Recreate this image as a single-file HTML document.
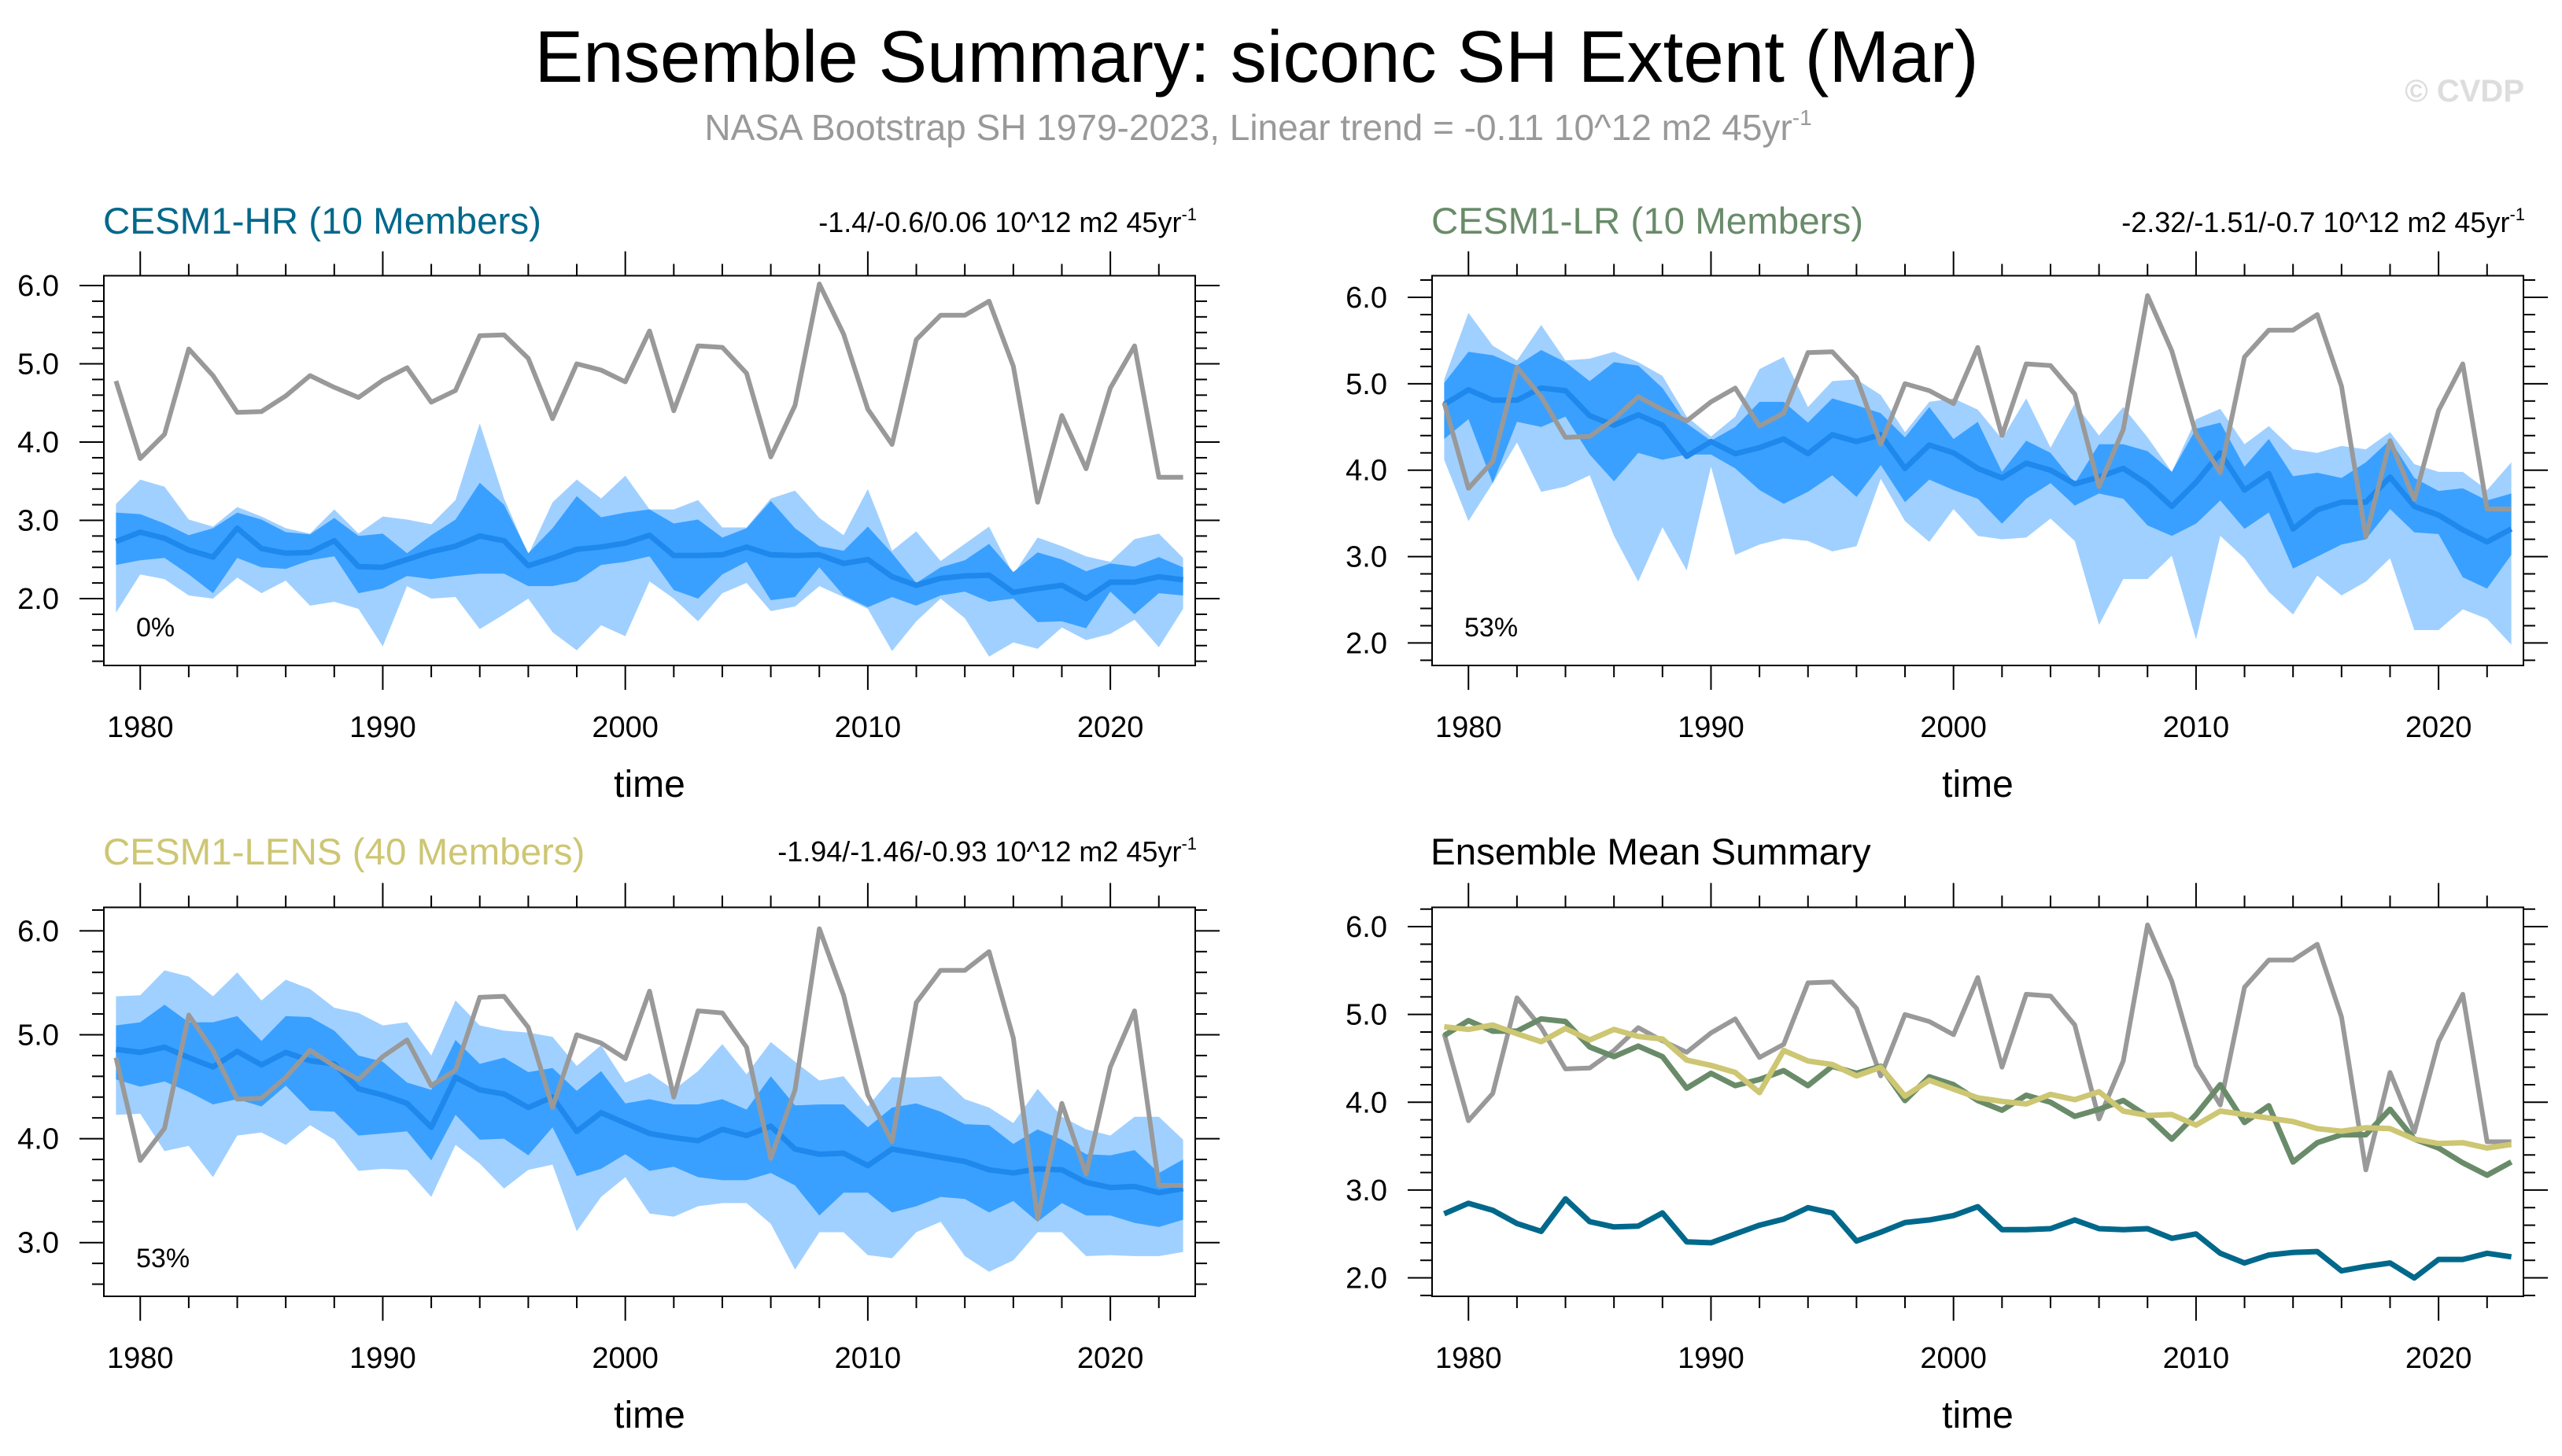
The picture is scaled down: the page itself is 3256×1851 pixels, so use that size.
<!DOCTYPE html>
<html><head><meta charset="utf-8"><title>Ensemble Summary</title>
<style>
html,body{margin:0;padding:0;background:#fff;}
svg{display:block;font-family:"Liberation Sans",Arial,sans-serif;}
</style></head>
<body>
<svg id="fig" xmlns="http://www.w3.org/2000/svg" width="3256" height="1851" viewBox="0 0 3256 1851">
<rect width="3256" height="1851" fill="#fff"/>
<text x="1597" y="104" font-size="92.5" text-anchor="middle" fill="#000">Ensemble Summary: siconc SH Extent (Mar)</text>
<text x="1599" y="178" font-size="46" text-anchor="middle" fill="#999">NASA Bootstrap SH 1979-2023, Linear trend = -0.11 10^12 m2 45yr<tspan font-size="28" dy="-19">-1</tspan></text>
<text x="3208" y="129" font-size="40" text-anchor="end" fill="#ddd" font-weight="bold">© CVDP</text>

<text x="131" y="297" font-size="47.5" fill="#00688b">CESM1-HR (10 Members)</text>
<text x="1521" y="295" font-size="36" text-anchor="end" fill="#000">-1.4/-0.6/0.06 10^12 m2 45yr<tspan font-size="22" dy="-15">-1</tspan></text>
<text x="1819" y="297" font-size="47.5" fill="#698b69">CESM1-LR (10 Members)</text>
<text x="3209" y="295" font-size="36" text-anchor="end" fill="#000">-2.32/-1.51/-0.7 10^12 m2 45yr<tspan font-size="22" dy="-15">-1</tspan></text>
<text x="131" y="1099" font-size="47.5" fill="#cdc673">CESM1-LENS (40 Members)</text>
<text x="1521" y="1095" font-size="36" text-anchor="end" fill="#000">-1.94/-1.46/-0.93 10^12 m2 45yr<tspan font-size="22" dy="-15">-1</tspan></text>
<text x="1818" y="1099" font-size="47.5" fill="#000">Ensemble Mean Summary</text>
</svg>
<script>
const years = [1979,1980,1981,1982,1983,1984,1985,1986,1987,1988,1989,1990,1991,1992,1993,1994,1995,1996,1997,1998,1999,2000,2001,2002,2003,2004,2005,2006,2007,2008,2009,2010,2011,2012,2013,2014,2015,2016,2017,2018,2019,2020,2021,2022,2023];
const obs = [4.78,3.79,4.10,5.19,4.85,4.38,4.39,4.59,4.85,4.70,4.57,4.79,4.95,4.51,4.66,5.36,5.37,5.07,4.30,5.00,4.92,4.77,5.42,4.40,5.23,5.21,4.88,3.81,4.47,6.02,5.38,4.42,3.97,5.31,5.62,5.62,5.80,4.97,3.23,4.34,3.66,4.69,5.23,3.55,3.55];
const hrMean = [2.73,2.85,2.77,2.62,2.53,2.90,2.64,2.58,2.59,2.74,2.41,2.40,2.50,2.60,2.67,2.80,2.74,2.42,2.52,2.63,2.66,2.71,2.81,2.55,2.55,2.56,2.66,2.56,2.55,2.56,2.45,2.50,2.28,2.17,2.26,2.29,2.30,2.08,2.13,2.17,2.00,2.21,2.21,2.28,2.24];
const lrMean = [4.76,4.93,4.81,4.81,4.95,4.92,4.63,4.52,4.64,4.52,4.16,4.33,4.19,4.26,4.36,4.19,4.41,4.33,4.41,4.02,4.29,4.20,4.02,3.91,4.08,4.00,3.84,3.92,4.02,3.84,3.58,3.86,4.20,3.77,3.96,3.32,3.54,3.63,3.63,3.92,3.58,3.48,3.31,3.17,3.32];
const lensMean = [4.86,4.83,4.88,4.78,4.69,4.84,4.71,4.83,4.75,4.72,4.48,4.42,4.34,4.11,4.59,4.47,4.43,4.30,4.40,4.07,4.25,4.15,4.05,4.01,3.98,4.09,4.03,4.12,3.90,3.85,3.86,3.74,3.90,3.86,3.82,3.78,3.70,3.67,3.71,3.70,3.58,3.53,3.54,3.48,3.52];

const hrLightHi = [3.21,3.52,3.43,3.01,2.92,3.17,3.05,2.90,2.83,3.14,2.83,3.05,3.01,2.95,3.26,4.24,3.28,2.56,3.23,3.52,3.28,3.57,3.14,3.14,3.26,2.91,2.91,3.28,3.38,3.03,2.81,3.40,2.61,2.86,2.48,2.70,2.92,2.31,2.78,2.67,2.54,2.47,2.76,2.83,2.52];
const hrDarkHi = [3.10,3.08,2.96,2.81,2.90,3.10,3.01,2.85,2.82,3.03,2.80,2.83,2.58,2.81,3.01,3.48,3.20,2.58,2.90,3.31,3.04,3.10,3.14,2.96,3.01,2.78,2.90,3.25,2.90,2.67,2.61,2.92,2.58,2.20,2.40,2.49,2.70,2.34,2.59,2.50,2.35,2.45,2.41,2.53,2.40];
const hrDarkLo = [2.43,2.49,2.52,2.31,2.07,2.52,2.40,2.38,2.49,2.54,2.07,2.13,2.29,2.25,2.29,2.32,2.32,2.16,2.16,2.22,2.43,2.47,2.54,2.11,2.00,2.31,2.47,1.98,2.02,2.40,2.04,1.89,2.02,1.91,2.04,2.09,1.96,2.00,1.70,1.71,1.62,2.09,1.80,2.07,2.04];
const hrLightLo = [1.82,2.31,2.25,2.04,2.00,2.27,2.07,2.23,1.91,1.96,1.87,1.39,2.16,2.00,2.02,1.61,1.80,2.00,1.57,1.34,1.66,1.52,2.22,2.00,1.71,2.07,2.20,1.84,1.90,2.16,2.02,1.87,1.33,1.71,2.00,1.75,1.26,1.44,1.36,1.63,1.47,1.55,1.73,1.38,1.87];

const lrLightHi = [5.05,5.82,5.44,5.27,5.68,5.27,5.29,5.37,5.25,5.09,4.62,4.39,4.62,5.17,5.31,4.73,5.03,5.05,4.87,4.44,4.79,4.83,4.70,4.36,4.83,4.26,4.77,4.40,4.73,4.38,3.98,4.59,4.71,4.30,4.51,4.24,4.20,4.28,4.24,4.44,4.07,3.98,3.98,3.77,4.09];
const lrDarkHi = [5.01,5.37,5.33,5.21,5.39,5.25,5.03,5.25,5.21,4.95,4.54,4.34,4.50,4.79,4.79,4.55,4.83,4.75,4.66,4.38,4.73,4.36,4.56,3.98,4.34,4.20,3.85,4.30,4.30,4.22,3.98,4.48,4.55,4.04,4.36,3.93,3.97,3.91,4.09,4.35,3.91,3.76,3.79,3.65,3.73];
const lrDarkLo = [4.36,4.59,3.85,4.56,4.50,4.62,4.18,3.87,4.20,4.12,4.18,4.18,4.02,3.77,3.61,3.75,3.94,3.69,4.06,3.63,3.89,3.77,3.67,3.38,3.67,3.85,3.59,3.73,3.67,3.36,3.24,3.38,3.65,3.32,3.51,2.86,3.00,3.14,3.20,3.55,3.28,3.26,2.76,2.63,3.02];
const lrLightLo = [4.12,3.41,3.85,4.32,3.75,3.81,3.94,3.24,2.71,3.34,2.84,4.04,3.02,3.14,3.21,3.18,3.06,3.12,3.90,3.41,3.17,3.55,3.24,3.20,3.22,3.44,3.18,2.21,2.74,2.74,3.01,2.04,3.24,2.98,2.59,2.33,2.78,2.55,2.71,2.98,2.15,2.15,2.39,2.28,1.98];

const lensLightHi = [5.37,5.38,5.62,5.56,5.37,5.60,5.33,5.53,5.44,5.26,5.21,5.09,5.12,4.80,5.33,5.09,5.04,5.02,4.98,4.70,4.90,4.54,4.63,4.47,4.65,4.91,4.62,4.93,4.74,4.56,4.60,4.31,4.59,4.59,4.60,4.38,4.30,4.15,4.48,4.21,4.09,4.03,4.21,4.21,3.99];
const lensDarkHi = [5.09,5.12,5.29,5.12,5.12,5.18,4.94,5.18,5.17,5.04,4.80,4.74,4.54,4.47,4.95,4.72,4.78,4.64,4.68,4.46,4.65,4.34,4.38,4.33,4.33,4.38,4.28,4.60,4.32,4.33,4.33,4.11,4.30,4.34,4.26,4.14,4.13,3.95,4.09,3.99,3.85,3.84,3.89,3.67,3.80];
const lensDarkLo = [4.57,4.50,4.55,4.45,4.33,4.38,4.31,4.51,4.27,4.26,4.03,4.05,4.07,3.79,4.23,3.99,4.00,3.84,4.11,3.64,3.71,3.85,3.69,3.73,3.63,3.60,3.60,3.67,3.55,3.26,3.48,3.48,3.29,3.35,3.44,3.42,3.29,3.40,3.20,3.38,3.26,3.26,3.19,3.15,3.22];
const lensLightLo = [4.23,4.24,3.88,3.93,3.63,4.03,4.06,3.94,4.13,3.99,3.69,3.71,3.70,3.44,3.94,3.76,3.52,3.70,3.75,3.11,3.44,3.63,3.28,3.25,3.35,3.38,3.38,3.18,2.74,3.10,3.10,2.88,2.85,3.10,3.20,2.87,2.72,2.83,3.10,3.10,2.87,2.88,2.87,2.87,2.91];

const xTickLabels = ["1980","1990","2000","2010","2020"];
const yTickLabels = ["2.0","3.0","4.0","5.0","6.0"];

const NS = "http://www.w3.org/2000/svg";
const svg = document.getElementById("fig");
function mk(tag, attrs, parent){
  const e = document.createElementNS(NS, tag);
  for (const k in attrs) e.setAttribute(k, attrs[k]);
  (parent || svg).appendChild(e);
  return e;
}

function makePanel(name, x0, x1, y0, y1, vmin, vmax, pctText){
  const g = mk("g", {});
  
  
  const xs = yr => x0 + (yr - 1978.5) / 45 * (x1 - x0);
  const ys = v => y1 - (v - vmin) / (vmax - vmin) * (y1 - y0);
  const axes = mk("g", {stroke:"#000","stroke-width":2}, g);
  
  
  for (let yr = 1980; yr <= 2023; yr += 2){
    const major = (yr % 10 === 0);
    const L = major ? 31 : 15;
    const x = xs(yr);
    mk("line", {x1:x, x2:x, y1:y0, y2:y0-L}, axes);
    mk("line", {x1:x, x2:x, y1:y1, y2:y1+L}, axes);
  }
  for (let k = Math.ceil(vmin*5 - 1e-6); k <= Math.floor(vmax*5 + 1e-6); k++){
    const v = k/5;
    const major = (k % 5 === 0);
    const L = major ? 31 : 15;
    const y = ys(v);
    mk("line", {x1:x0, x2:x0-L, y1:y, y2:y}, axes);
    mk("line", {x1:x1, x2:x1+L, y1:y, y2:y}, axes);
  }
  xTickLabels.forEach(lab => {
    const t = mk("text", {x:xs(+lab), y:y1+91, "font-size":38, "text-anchor":"middle", fill:"#000"}, g);
    
    
    t.textContent = lab;
  });
  yTickLabels.forEach(lab => {
    const v = parseFloat(lab);
    if (v < vmin || v > vmax) return;
    const t = mk("text", {x:x0-57, y:ys(v)+13, "font-size":38, "text-anchor":"end", fill:"#000"}, g);
    
    
    t.textContent = lab;
  });
  const xt = mk("text", {x:(x0+x1)/2, y:y1+167, "font-size":48, "text-anchor":"middle", fill:"#000"}, g);
  
  
  xt.textContent = "time";
  const plot = mk("g", {}, g);
  
  
  const frame = mk("rect", {x:x0, y:y0, width:x1-x0, height:y1-y0, fill:"none", stroke:"#000", "stroke-width":2}, g);
  
  
  if (pctText){
    const p = mk("text", {x:x0+41, y:ys(vmin)-(y1-y0)*0.075, "font-size":34, fill:"#000"}, g);
    
    
    p.textContent = pctText;
  }
  return {xs, ys, plot};
}

function band(P, lo, hi, color, name){
  const pts = [];
  years.forEach((yr,i) => pts.push(P.xs(yr).toFixed(1)+","+P.ys(hi[i]).toFixed(1)));
  for (let i = years.length-1; i >= 0; i--) pts.push(P.xs(years[i]).toFixed(1)+","+P.ys(lo[i]).toFixed(1));
  const poly = mk("polygon", {points:pts.join(" "), fill:color, stroke:"none"}, P.plot);
  
  
}
function line(P, vals, color, w, name){
  const pts = years.map((yr,i) => P.xs(yr).toFixed(1)+","+P.ys(vals[i]).toFixed(1)).join(" ");
  const pl = mk("polyline", {points:pts, fill:"none", stroke:color, "stroke-width":w, "stroke-linejoin":"round"}, P.plot);
  
  
}

const LIGHT = "#a0d0ff", DARK = "#3aa0ff", MEAN = "#1e88ec", OBS = "#999999";

const pTL = makePanel("cesm1-hr", 132, 1519, 350.5, 846, 1.146, 6.126, "0%");
band(pTL, hrLightLo, hrLightHi, LIGHT, "hr-outer-spread-band");
band(pTL, hrDarkLo, hrDarkHi, DARK, "hr-inner-spread-band");
line(pTL, hrMean, MEAN, 7, "hr-ensemble-mean-line");
line(pTL, obs, OBS, 6, "observed-line");

const pTR = makePanel("cesm1-lr", 1820, 3207, 350.5, 846, 1.74, 6.25, "53%");
band(pTR, lrLightLo, lrLightHi, LIGHT, "lr-outer-spread-band");
band(pTR, lrDarkLo, lrDarkHi, DARK, "lr-inner-spread-band");
line(pTR, lrMean, MEAN, 7, "lr-ensemble-mean-line");
line(pTR, obs, OBS, 6, "observed-line");

const pBL = makePanel("cesm1-lens", 132, 1519, 1153.5, 1648, 2.483, 6.226, "53%");
band(pBL, lensLightLo, lensLightHi, LIGHT, "lens-outer-spread-band");
band(pBL, lensDarkLo, lensDarkHi, DARK, "lens-inner-spread-band");
line(pBL, lensMean, MEAN, 7, "lens-ensemble-mean-line");
line(pBL, obs, OBS, 6, "observed-line");

const pBR = makePanel("ensemble-mean-summary", 1820, 3207, 1153.5, 1648, 1.79, 6.22, null);
line(pBR, obs, OBS, 6, "observed-line");
line(pBR, hrMean, "#00688b", 7, "hr-mean-line");
line(pBR, lrMean, "#698b69", 7, "lr-mean-line");
line(pBR, lensMean, "#cdc673", 7, "lens-mean-line");
</script>
</body></html>
